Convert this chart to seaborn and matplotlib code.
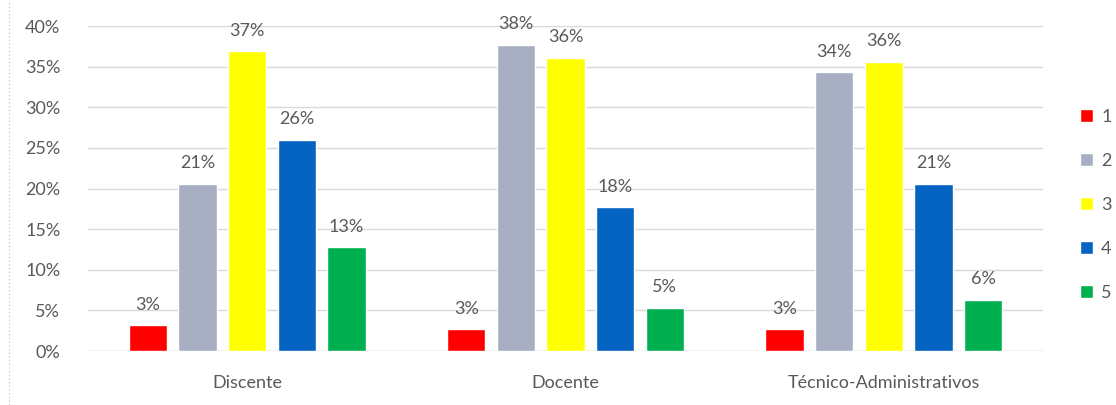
import matplotlib
matplotlib.use("Agg")
import matplotlib.pyplot as plt
from matplotlib.lines import Line2D
from matplotlib.ticker import PercentFormatter
import seaborn as sns
import pandas as pd

categories = ["Discente", "Docente", "Técnico-Administrativos"]
levels = ["1", "2", "3", "4", "5"]
values_1 = [0.032, 0.027, 0.027]
values_2 = [0.206, 0.377, 0.343]
values_3 = [0.369, 0.361, 0.356]
values_4 = [0.260, 0.177, 0.206]
values_5 = [0.128, 0.053, 0.063]
colors = ["#FF0000", "#A9AFC2", "#FFFF00", "#0563C1", "#00B050"]

series = [values_1, values_2, values_3, values_4, values_5]
rows = []
for lvl, vals in zip(levels, series):
    for cat, v in zip(categories, vals):
        rows.append({"cat": cat, "level": lvl, "value": v})
df = pd.DataFrame(rows)

sns.set_theme(style="white")
plt.rcParams["font.family"] = ["Lato", "DejaVu Sans"]
txt = "#595959"
fs = 13

fig = plt.figure(figsize=(11.16, 4.05), dpi=100)
ax = fig.add_axes([0.0789, 0.1333, 0.8557, 0.8025])
sns.barplot(data=df, x="cat", y="value", hue="level", order=categories,
            hue_order=levels, palette=colors, width=0.78, gap=0.23,
            saturation=1, errorbar=None, ax=ax, zorder=3)

ax.set_xlim(-0.5, 2.5)
ax.set_ylim(0, 0.40)
ax.set_yticks([i * 0.05 for i in range(9)])
ax.yaxis.set_major_formatter(PercentFormatter(1.0, decimals=0))
ax.grid(axis="y", color="#D9D9D9", linewidth=1, zorder=0)
ax.set_axisbelow(True)
for s in ax.spines.values():
    s.set_visible(False)
ax.axhline(0, color="#D9D9D9", linewidth=1, zorder=1)
ax.set_xlabel("")
ax.set_ylabel("")
ax.tick_params(axis="both", length=0, labelsize=fs, colors=txt)
ax.tick_params(axis="x", pad=17)
ax.tick_params(axis="y", pad=20)

for cont in ax.containers:
    ax.bar_label(cont, labels=[f"{round(v*100)}%" for v in cont.datavalues],
                 padding=9, fontsize=fs, color=txt)

handles, labels = ax.get_legend_handles_labels()
ax.legend(handles, labels, loc="center left", bbox_to_anchor=(1.022, 0.45),
          frameon=False, fontsize=fs, labelcolor=txt, labelspacing=1.55,
          handlelength=0.7, handleheight=0.7, handletextpad=0.45)

fig.add_artist(Line2D([0.008, 0.008], [0, 1], color="#D0D0D0", linewidth=1,
                      linestyle=":", transform=fig.transFigure))

fig.savefig("out.png", dpi=100)
